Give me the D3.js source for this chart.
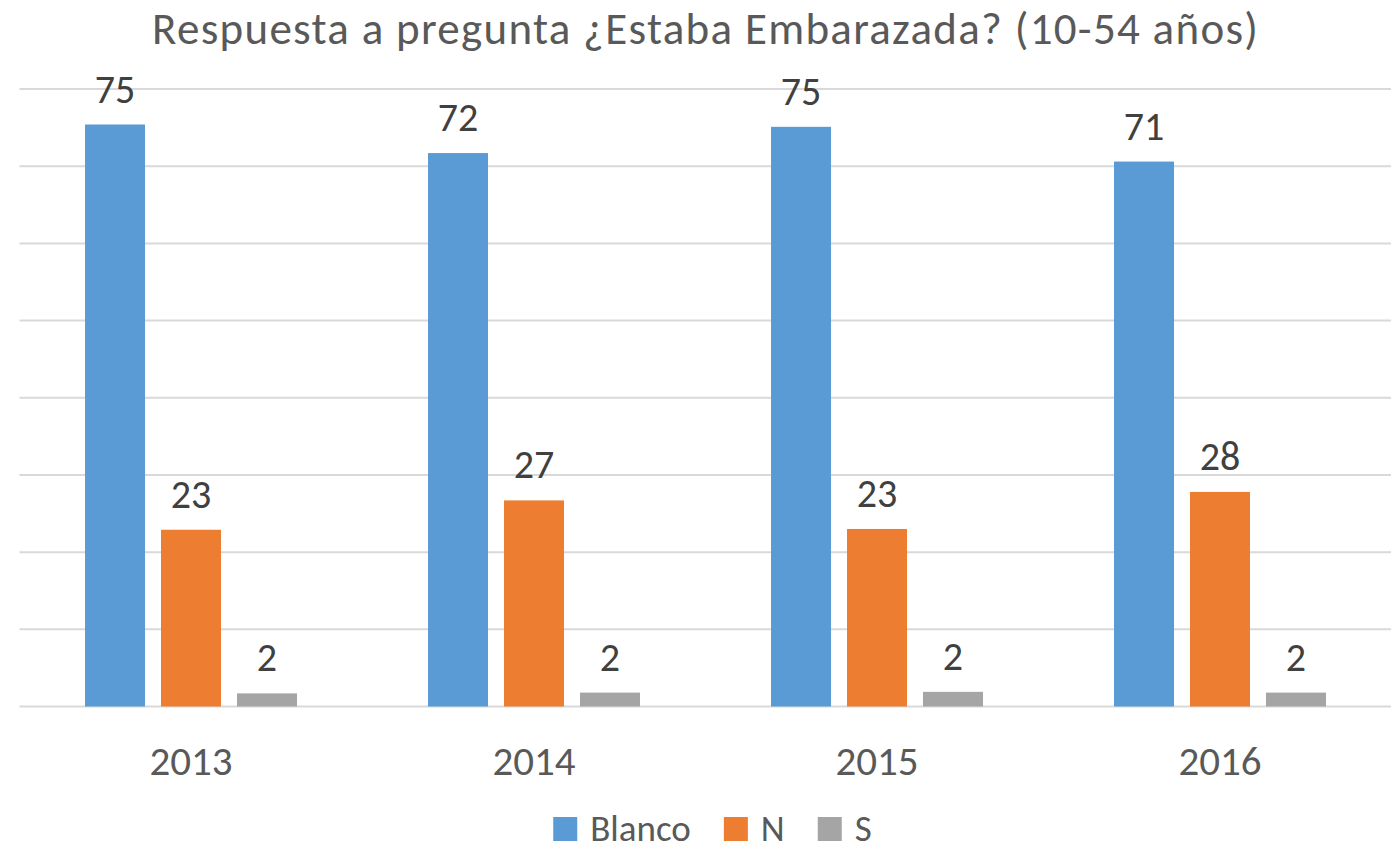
<!DOCTYPE html>
<html>
<head>
<meta charset="utf-8">
<script src="https://cdn.jsdelivr.net/npm/d3@7"></script>
<style>
  html, body { margin: 0; padding: 0; background: #fff; }
  svg { display: block; font-family: Carlito, Lato, "Noto Sans", sans-serif; }
</style>
</head>
<body>
<svg id="chart" width="1391" height="852"></svg>
<script>
const title = "Respuesta a pregunta ¿Estaba Embarazada? (10-54 años)";
const years = ["2013", "2014", "2015", "2016"];
const seriesNames = ["Blanco", "N", "S"];
const blanco = [75.4, 71.7, 75.1, 70.6];
const nVals = [22.9, 26.7, 23.0, 27.8];
const sVals = [1.7, 1.8, 1.9, 1.8];
const gridTicks = [0, 10, 20, 30, 40, 50, 60, 70, 80];
const colors = ["#5B9BD5", "#ED7D31", "#A5A5A5"];

(function () {
const seriesValues = [blanco, nVals, sVals];
const rows = [];
years.forEach((yr, i) => {
  seriesNames.forEach((s, j) => rows.push({ year: yr, series: s, value: seriesValues[j][i], color: colors[j] }));
});

const svg = d3.select("#chart");
const pLeft = 19.5, pRight = 1391.5, pTop = 89, pBottom = 706.5;

const x0 = d3.scaleBand().domain(years).range([pLeft, pRight]).paddingInner(0.382).paddingOuter(0.191);
const x1 = d3.scaleBand().domain(seriesNames).range([0, x0.bandwidth()]).paddingInner(0.2105).paddingOuter(0);
const y = d3.scaleLinear().domain([0, 80]).range([pBottom, pTop]);

// gridlines
svg.append("g").selectAll("line").data(gridTicks).join("line")
  .attr("x1", pLeft).attr("x2", 1391)
  .attr("y1", d => y(d)).attr("y2", d => y(d))
  .attr("stroke", "#d9d9d9").attr("stroke-width", 2);

// title
svg.append("text")
  .attr("x", 705).attr("y", 44)
  .attr("text-anchor", "middle")
  .attr("fill", "#595959")
  .attr("font-size", 45)
  .attr("textLength", 1106)
  .attr("lengthAdjust", "spacing")
  .text(title);

// bars
svg.append("g").selectAll("rect").data(rows).join("rect")
  .attr("x", d => x0(d.year) + x1(d.series))
  .attr("width", x1.bandwidth())
  .attr("y", d => y(d.value))
  .attr("height", d => y(0) - y(d.value))
  .attr("fill", d => d.color);

// data labels
svg.append("g").selectAll("text").data(rows).join("text")
  .attr("x", d => x0(d.year) + x1(d.series) + x1.bandwidth() / 2)
  .attr("y", d => y(d.value) - 22)
  .attr("text-anchor", "middle")
  .attr("fill", "#404040")
  .attr("font-size", 40)
  .text(d => d3.format(".0f")(d.value));

// x axis labels
const xAxis = svg.append("g").attr("transform", `translate(0,${pBottom})`)
  .call(d3.axisBottom(x0).tickSize(0).tickPadding(0));
xAxis.select(".domain").remove();
xAxis.selectAll("text")
  .attr("y", 68.5).attr("dy", 0)
  .attr("fill", "#595959")
  .attr("font-size", 41)
  .attr("font-family", "Carlito, Lato, 'Noto Sans', sans-serif");

// legend
const legend = svg.append("g");
const items = legend.selectAll("g").data(seriesNames).join("g");
items.append("rect").attr("width", 24).attr("height", 24).attr("y", 817)
  .attr("fill", (d, i) => colors[i]);
items.append("text").attr("y", 841).attr("fill", "#595959").attr("font-size", 37).text(d => d);
const widths = [];
items.each(function () {
  widths.push(d3.select(this).select("text").node().getComputedTextLength());
});
const total = widths.reduce((a, w) => a + 24 + 13 + w, 0) + 33 * (widths.length - 1);
let cx = 712.5 - total / 2;
items.each(function (d, i) {
  const g = d3.select(this);
  g.select("rect").attr("x", cx);
  g.select("text").attr("x", cx + 37);
  cx += 37 + widths[i] + 33;
});
})();
</script>
</body>
</html>
